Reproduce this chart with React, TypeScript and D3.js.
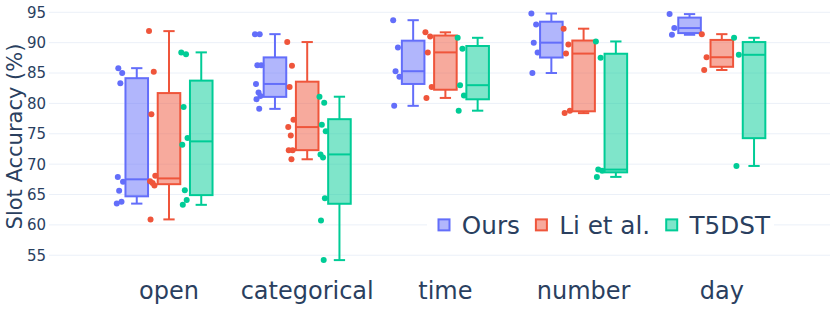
import React, { useEffect, useRef } from "react";
import * as d3 from "d3";

const categories = ["open", "categorical", "time", "number", "day"];
const methods = ["Ours", "Li et al.", "T5DST"];
const colors = ["#636efa", "#EF553B", "#00cc96"];

// one list of slot accuracies per category
const ours = [
	[63.5, 63.8, 65.6, 67.1, 67.9, 83.3, 85.0, 85.8],
	[91.4, 91.4, 86.3, 86.3, 83.2, 81.8, 81.2, 80.7, 79.1],
	[93.7, 89.2, 85.3, 84.4, 79.6],
	[94.8, 93.0, 90.0, 88.4, 85.0],
	[94.7, 92.4, 91.3],
];
const liEtAl = [
	[91.9, 85.2, 78.2, 68.1, 67.2, 66.9, 66.5, 60.9],
	[90.1, 86.2, 82.7, 77.3, 76.1, 74.7, 72.3, 72.3, 70.8],
	[91.7, 91.0, 88.4, 82.7, 80.9],
	[92.3, 89.7, 88.2, 78.8, 78.4],
	[91.4, 87.6, 85.5],
];
const t5dst = [
	[88.4, 88.1, 79.4, 74.3, 73.2, 65.7, 64.1, 63.3],
	[81.1, 80.1, 76.5, 75.4, 71.6, 71.1, 64.4, 60.7, 54.2],
	[90.8, 89.0, 83.0, 81.3, 78.8],
	[90.2, 87.5, 69.1, 68.9, 67.9],
	[90.8, 88.0, 69.7],
];
const yTicks = [55, 60, 65, 70, 75, 80, 85, 90, 95];

const seriesData = [ours, liEtAl, t5dst];

const FONT = "'DejaVu Sans', Verdana, sans-serif";
const TEXT = "#2a3f5f";

// plotly's "linear" quartile method
const quart = (sorted: number[], p: number) => {
	const n = sorted.length;
	let pos = p * n - 0.5;
	pos = Math.max(0, Math.min(n - 1, pos));
	const lo = Math.floor(pos);
	const hi = Math.min(n - 1, lo + 1);
	return sorted[lo] + (pos - lo) * (sorted[hi] - sorted[lo]);
};

const jitterPattern = [-0.9, 0.5, -0.2, 0.95, -0.6, 0.15, 0.7, -0.45, 0.35];

const App = () => {
	const ref = useRef<SVGSVGElement>(null);
	const width = 830;
	const height = 332;
	const plot = { left: 49, right: 830, top: 5, bottom: 268 };

	useEffect(() => {
		const svg = d3.select(ref.current);
		svg.selectAll("*").remove();

		const x = d3.scaleBand().domain(categories).range([99.9, 790.9]);
		const groupW = x.step() * 0.7;
		const xg = d3
			.scaleBand()
			.domain(methods)
			.range([-groupW / 2, groupW / 2]);
		const boxW = xg.bandwidth() * 0.7;
		const y = d3.scaleLinear().domain([52.9, 96.2]).range([plot.bottom, plot.top]);

		// grid
		svg.append("g")
			.selectAll("line")
			.data(yTicks)
			.enter()
			.append("line")
			.attr("x1", plot.left)
			.attr("x2", plot.right)
			.attr("y1", (d) => y(d))
			.attr("y2", (d) => y(d))
			.attr("stroke", "#ebf0f8")
			.attr("stroke-width", 1);

		// y tick labels
		svg.append("g")
			.selectAll("text")
			.data(yTicks)
			.enter()
			.append("text")
			.attr("x", 46)
			.attr("y", (d) => y(d))
			.attr("dy", "0.36em")
			.attr("text-anchor", "end")
			.attr("font-family", FONT)
			.attr("font-size", 15)
			.attr("fill", TEXT)
			.text((d) => d);

		// y title
		svg.append("text")
			.attr("transform", `translate(22, ${(plot.top + plot.bottom) / 2}) rotate(-90)`)
			.attr("text-anchor", "middle")
			.attr("font-family", FONT)
			.attr("font-size", 21)
			.attr("fill", TEXT)
			.text("Slot Accuracy (%)");

		// x labels
		svg.append("g")
			.selectAll("text")
			.data(categories)
			.enter()
			.append("text")
			.attr("x", (d) => x(d)! + x.bandwidth() / 2)
			.attr("y", 299)
			.attr("text-anchor", "middle")
			.attr("font-family", FONT)
			.attr("font-size", 24)
			.attr("fill", TEXT)
			.text((d) => d);

		// boxes
		methods.forEach((m, mi) => {
			const color = colors[mi];
			const g = svg.append("g");
			categories.forEach((c, ci) => {
				const vals = seriesData[mi][ci];
				const sorted = vals.slice().sort(d3.ascending);
				const q1 = quart(sorted, 0.25);
				const q3 = quart(sorted, 0.75);
				const med = quart(sorted, 0.5);
				const iqr = q3 - q1;
				const lowW = d3.min(sorted.filter((v) => v >= q1 - 1.5 * iqr))!;
				const highW = d3.max(sorted.filter((v) => v <= q3 + 1.5 * iqr))!;
				const cx = x(c)! + x.bandwidth() / 2 + xg(m)! + xg.bandwidth() / 2;
				const half = boxW / 2;

				// whiskers
				[
					[q3, highW],
					[q1, lowW],
				].forEach(([a, b]) => {
					g.append("line")
						.attr("x1", cx)
						.attr("x2", cx)
						.attr("y1", y(a))
						.attr("y2", y(b))
						.attr("stroke", color)
						.attr("stroke-width", 2);
					g.append("line")
						.attr("x1", cx - half / 2)
						.attr("x2", cx + half / 2)
						.attr("y1", y(b))
						.attr("y2", y(b))
						.attr("stroke", color)
						.attr("stroke-width", 2);
				});

				g.append("rect")
					.attr("x", cx - half)
					.attr("y", y(q3))
					.attr("width", boxW)
					.attr("height", y(q1) - y(q3))
					.attr("fill", color)
					.attr("fill-opacity", 0.5)
					.attr("stroke", color)
					.attr("stroke-width", 2);

				g.append("line")
					.attr("x1", cx - half)
					.attr("x2", cx + half)
					.attr("y1", y(med))
					.attr("y2", y(med))
					.attr("stroke", color)
					.attr("stroke-width", 2);

				// all points, to the left of the box
				g.selectAll(null)
					.data(vals)
					.enter()
					.append("circle")
					.attr("cx", (d, i) => cx - 1.5 * half + jitterPattern[i % jitterPattern.length] * 0.3 * half)
					.attr("cy", (d) => y(d))
					.attr("r", 3)
					.attr("fill", color);
			});
		});

		// legend
		const legend = svg.append("g");
		const bg = legend.append("rect").attr("fill", "white");
		let cursor = 438.5;
		const ly = y(60);
		methods.forEach((m, mi) => {
			legend.append("rect")
				.attr("x", cursor)
				.attr("y", ly - 5.5)
				.attr("width", 11)
				.attr("height", 11)
				.attr("fill", colors[mi])
				.attr("fill-opacity", 0.5)
				.attr("stroke", colors[mi])
				.attr("stroke-width", 2);
			const t = legend.append("text")
				.attr("x", cursor + 23.3)
				.attr("y", ly + 8.9)
				.attr("font-family", FONT)
				.attr("font-size", 24.7)
				.attr("fill", TEXT)
				.text(m);
			const w = (t.node() as SVGTextElement).getComputedTextLength();
			cursor = cursor + 23.3 + w + 16;
		});
		bg.attr("x", 427)
			.attr("y", ly - 15)
			.attr("width", cursor - 16 + 4 - 427)
			.attr("height", 32);
	}, []);

	return (
		<svg
			ref={ref}
			width={width}
			height={height}
			style={{ position: "absolute", left: 0, top: 0, background: "white" }}
		></svg>
	);
};

export default App;
